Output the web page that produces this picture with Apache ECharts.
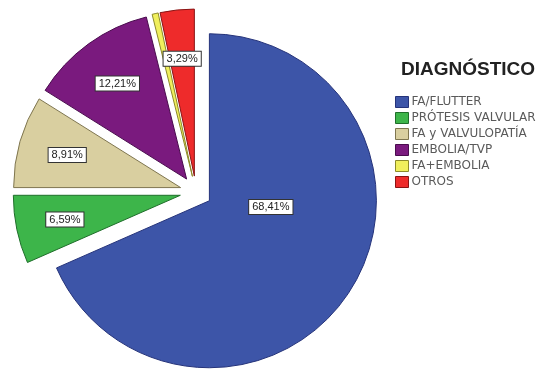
<!DOCTYPE html>
<html>
<head>
<meta charset="utf-8">
<script src="https://cdn.jsdelivr.net/npm/echarts@6/dist/echarts.min.js"></script>
<style>
html,body{margin:0;padding:0;background:#fff;}
#c{width:548px;height:374px;}
</style>
</head>
<body>
<div id="c"></div>
<script>
var categories = ['FA/FLUTTER', 'PRÓTESIS VALVULAR', 'FA y VALVULOPATÍA', 'EMBOLIA/TVP', 'FA+EMBOLIA', 'OTROS'];
var values = [68.41, 6.59, 8.91, 12.21, 0.59, 3.29];
var labelsShown = [true, true, true, true, false, true];
var colors = ['#3d55a8', '#3db54a', '#d9cfa0', '#7a1a7e', '#f0ef5c', '#ee2b2b'];
var borders = ['#25337a', '#1f6e2a', '#7f7650', '#4a0c4e', '#8c8a2a', '#8a1414'];

function fmt(v){ return v.toFixed(2).replace('.', ',') + '%'; }

var labelStyle = {
  show: true,
  position: 'inside',
  color: '#222',
  fontFamily: 'Liberation Sans',
  fontSize: 11,
  backgroundColor: '#fff',
  borderColor: '#333',
  borderWidth: 1,
  padding: [2, 3, 1, 3],
  formatter: function(p){ return fmt(p.value); }
};

var mainData = categories.map(function(n, i){
  return {name: n, value: values[i], selected: true,
    itemStyle: {color: colors[i], borderColor: borders[i], borderWidth: 1},
    label: i === 0 ? labelStyle : {show: false}};
});
var labelData = categories.map(function(n, i){
  return {name: n, value: values[i], selected: true,
    itemStyle: {color: 'rgba(0,0,0,0)', borderWidth: 0},
    label: (i === 0 || !labelsShown[i]) ? {show: false} : labelStyle};
});

var chart = echarts.init(document.getElementById('c'), null, {renderer: 'canvas'});
chart.setOption({
  backgroundColor: '#fff',
  animation: false,
  title: {
    text: 'DIAGNÓSTICO',
    left: 396, top: 55,
    textStyle: {fontFamily: 'Liberation Sans', fontSize: 19, fontWeight: 'bold', color: '#222'}
  },
  legend: {
    orient: 'vertical',
    left: 395, top: 96,
    padding: 0,
    icon: 'rect',
    itemWidth: 13, itemHeight: 11, itemGap: 4,
    data: categories,
    selectedMode: false,
    itemStyle: {borderWidth: 1},
    textStyle: {fontFamily: 'DejaVu Sans', fontSize: 12, color: '#5a5a5a', lineHeight: 12, padding: [0,0,0,-2]}
  },
  series: [{
    type: 'pie',
    center: [196, 192],
    radius: [0, 167],
    startAngle: 90,
    clockwise: true,
    selectedMode: 'multiple',
    selectedOffset: 16,
    avoidLabelOverlap: false,
    emphasis: {disabled: true},
    labelLine: {show: false},
    labelLayout: function(p){ return {dx: -11, dy: -41}; },
    data: mainData
  }, {
    type: 'pie',
    center: [196, 192],
    radius: [95, 135],
    startAngle: 90,
    clockwise: true,
    selectedMode: 'multiple',
    selectedOffset: 16,
    avoidLabelOverlap: false,
    silent: true,
    emphasis: {disabled: true},
    labelLine: {show: false},
    data: labelData
  }]
});
</script>
</body>
</html>
